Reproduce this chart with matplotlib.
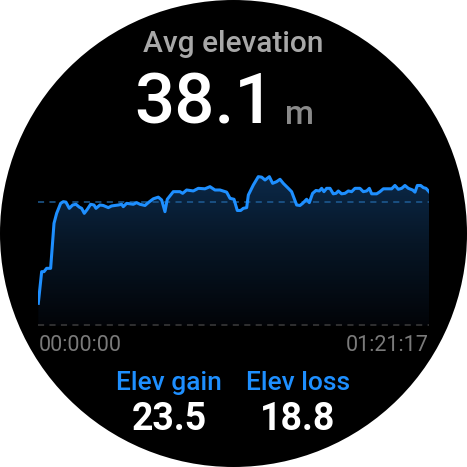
import matplotlib
matplotlib.use("Agg")
import matplotlib.pyplot as plt
import numpy as np
from matplotlib.patches import Circle

# ====================================================================
# data read from the watch screen
t_sec = [0, 42, 71, 104, 154, 196, 229, 279, 312, 345, 387, 429, 470, 512, 541, 574,
         612, 653, 695, 720, 770, 811, 874, 915, 999, 1040, 1061, 1103, 1186, 1227,
         1269, 1332, 1373, 1436, 1498, 1540, 1581, 1610, 1685, 1768, 1802, 1852, 1935,
         1997, 2080, 2143, 2205, 2268, 2351, 2393, 2443, 2484, 2526, 2559, 2601, 2622,
         2684, 2746, 2788, 2830, 2884, 2925, 2975, 3017, 3058, 3121, 3162, 3225, 3266,
         3300, 3349, 3383, 3424, 3466, 3508, 3537, 3566, 3599, 3641, 3682, 3716, 3745,
         3786, 3828, 3870, 3911, 3953, 4015, 4057, 4099, 4132, 4161, 4224, 4265, 4307,
         4411, 4452, 4494, 4536, 4577, 4619, 4673, 4702, 4731, 4773, 4806, 4839, 4877]
elev_m = [33.84, 35.17, 35.17, 35.31, 35.31, 37.20, 37.62, 38.04, 38.11, 38.09, 37.83,
          37.97, 38.00, 37.88, 37.83, 37.62, 37.79, 38.00, 37.97, 37.83, 37.97, 37.95,
          37.86, 37.93, 37.97, 38.00, 37.90, 38.04, 38.00, 38.07, 38.00, 37.95, 38.07,
          38.23, 38.30, 38.18, 37.69, 38.21, 38.53, 38.53, 38.46, 38.60, 38.56, 38.67,
          38.65, 38.74, 38.60, 38.60, 38.51, 38.25, 38.21, 37.74, 37.74, 37.83, 37.86,
          38.39, 38.81, 39.16, 39.14, 39.02, 39.16, 38.88, 38.95, 39.05, 38.88, 38.67,
          38.53, 37.97, 37.95, 38.04, 38.21, 38.07, 38.46, 38.58, 38.56, 38.67, 38.53,
          38.67, 38.67, 38.44, 38.46, 38.56, 38.44, 38.46, 38.56, 38.53, 38.67, 38.67,
          38.53, 38.56, 38.67, 38.44, 38.44, 38.53, 38.65, 38.65, 38.79, 38.63, 38.67,
          38.79, 38.67, 38.60, 38.51, 38.79, 38.79, 38.70, 38.67, 38.53]
avg_elev = 38.1
elev_gain = 23.5
elev_loss = 18.8
time_labels = ["00:00:00", "01:21:17"]

W = 467.0
BLUE = "#1e8fff"
FONT = ["Roboto", "DejaVu Sans"]


def fx(px):
    return px / W


def fy(py):
    return 1 - py / W


# ====================================================================
fig = plt.figure(figsize=(4.67, 4.67), dpi=100, facecolor="white")
fig.patches.append(Circle((0.5, 0.5), 0.5, transform=fig.transFigure,
                          facecolor="black", edgecolor="none", zorder=-5))

ax = fig.add_axes([fx(38.3), fy(325.7), fx(429) - fx(38.3), fy(160) - fy(325.7)])
ax.set_facecolor("none")
y_lo, y_hi = 32.9, 39.86
ax.set_xlim(t_sec[0], t_sec[-1])
ax.set_ylim(y_lo, y_hi)
ax.axis("off")

# gradient under the line
grad = np.linspace(0, 1, 256).reshape(-1, 1)
cmap = matplotlib.colors.LinearSegmentedColormap.from_list(
    "fade", ["#020408", "#071626", "#0c2d50"])
img = ax.imshow(grad, cmap=cmap, origin="lower", aspect="auto",
                extent=[t_sec[0], t_sec[-1], y_lo, y_hi], zorder=1)
poly = ax.fill_between(t_sec, elev_m, y_lo, facecolor="none", edgecolor="none")
img.set_clip_path(poly.get_paths()[0], transform=ax.transData)

ax.plot(t_sec, elev_m, color=BLUE, lw=2.2, zorder=3, solid_joinstyle="round")
ax.axhline(avg_elev, color="#1f5d96", lw=1.1, dashes=(4, 3.5), zorder=2)
ax.axhline(y_lo + 0.02, color="#3c3c3c", lw=1.1, dashes=(4, 3.5), zorder=2, clip_on=False)

# ====================================================================
# texts
fig.text(0.5, fy(52), "Avg elevation", color="#a8a8a8", fontsize=21.5,
         ha="center", va="baseline", family=FONT, fontweight="medium")
fig.text(fx(275), fy(124), "%.1f" % avg_elev, color="white", fontsize=51,
         ha="right", va="baseline", family=FONT, fontweight="medium")
fig.text(fx(285), fy(124), "m", color="#8a8a8a", fontsize=24,
         ha="left", va="baseline", family=FONT, fontweight="medium")

fig.text(fx(38.3), fy(351), time_labels[0], color="#7a7a7a", fontsize=15.5,
         ha="left", va="baseline", family=FONT)
fig.text(fx(429), fy(351), time_labels[1], color="#7a7a7a", fontsize=15.5,
         ha="right", va="baseline", family=FONT)

fig.text(fx(169), fy(390), "Elev gain", color=BLUE, fontsize=19,
         ha="center", va="baseline", family=FONT, fontweight="medium")
fig.text(fx(298), fy(390), "Elev loss", color=BLUE, fontsize=19,
         ha="center", va="baseline", family=FONT, fontweight="medium")
fig.text(fx(169.5), fy(430), "%.1f" % elev_gain, color="white", fontsize=27,
         fontweight="semibold", ha="center", va="baseline", family=FONT)
fig.text(fx(298), fy(430), "%.1f" % elev_loss, color="white", fontsize=27,
         fontweight="semibold", ha="center", va="baseline", family=FONT)

fig.savefig("out.png", dpi=100, facecolor="white")
